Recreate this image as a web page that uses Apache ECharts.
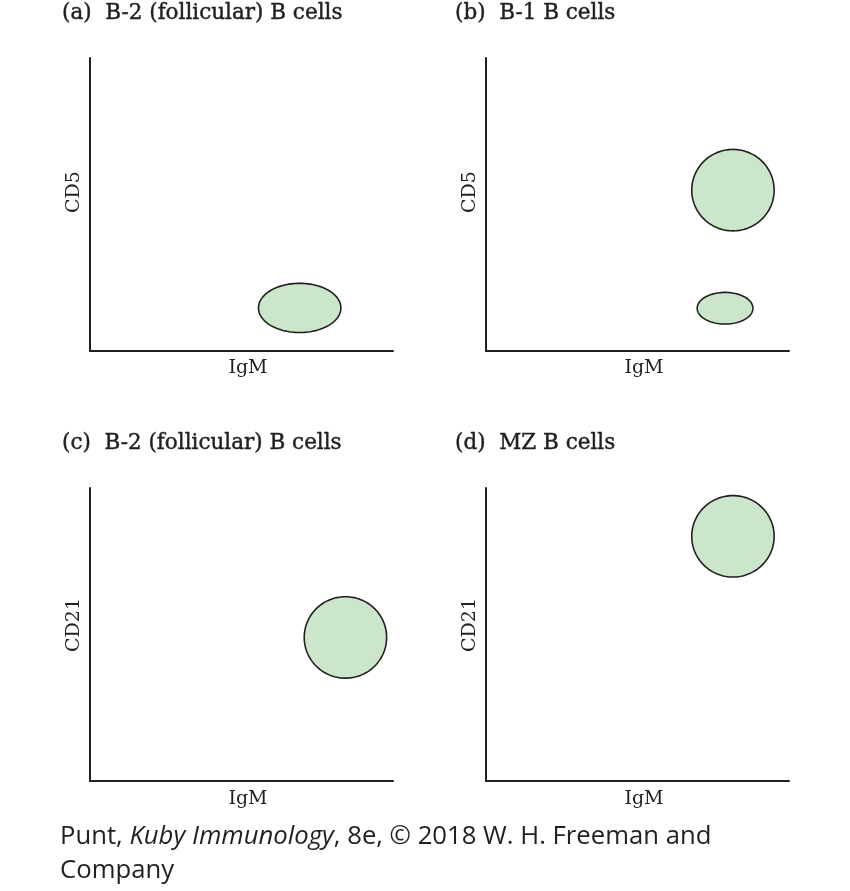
<!DOCTYPE html>
<html>
<head>
<meta charset="utf-8">
<script src="https://cdn.jsdelivr.net/npm/echarts@6/dist/echarts.min.js"></script>
<style>
html,body{margin:0;padding:0;background:#fff;}
#chart{width:850px;height:891px;}
</style>
</head>
<body>
<div id="chart"></div>
<script>
// Panel titles and axis names
const panelTitles = ['(a)  B-2 (follicular) B cells', '(b)  B-1 B cells', '(c)  B-2 (follicular) B cells', '(d)  MZ B cells'];
const xAxisNames = ['IgM', 'IgM', 'IgM', 'IgM'];
const yAxisNames = ['CD5', 'CD5', 'CD21', 'CD21'];
// Populations: [IgM center, marker center, IgM half-width, marker half-height] (axis units 0-100)
const panelA = [[69.2, 14.7, 13.6, 8.4]];
const panelB = [[81.5, 54.9, 13.6, 13.9], [78.9, 14.6, 9.2, 5.4]];
const panelC = [[84.3, 49.0, 13.6, 13.9]];
const panelD = [[81.5, 83.5, 13.6, 13.9]];
const panelData = [panelA, panelB, panelC, panelD];
const footerLine1 = 'Punt, ';
const footerItalic = 'Kuby Immunology';
const footerRest = ', 8e, \u00a9 2018 W. H. Freeman and';
const footerLine2 = 'Company';

const grids = [
  {left: 90, top: 58, width: 303, height: 293},
  {left: 486, top: 58, width: 303, height: 293},
  {left: 90, top: 488, width: 303, height: 293},
  {left: 486, top: 488, width: 303, height: 293}
];
const ink = '#231f20';
const serif = '"DejaVu Serif", "Liberation Serif", serif';

const chart = echarts.init(document.getElementById('chart'), null, {renderer: 'canvas'});

function axisCommon() {
  return {
    type: 'value', min: 0, max: 100,
    axisLine: {show: true, onZero: false, lineStyle: {color: ink, width: 2}},
    axisTick: {show: false}, axisLabel: {show: false}, splitLine: {show: false}
  };
}

const xAxes = grids.map((g, i) => Object.assign(axisCommon(), {gridIndex: i, position: 'bottom'}));
const yAxes = grids.map((g, i) => Object.assign(axisCommon(), {gridIndex: i, position: 'left'}));

function renderEllipse(params, api) {
  const c = api.coord([api.value(0), api.value(1)]);
  const s = api.size([api.value(2), api.value(3)]);
  const rx = s[0], ry = s[1];
  const pts = [];
  for (let k = 0; k < 120; k++) {
    const t = k / 120 * Math.PI * 2;
    pts.push([c[0] + rx * Math.cos(t), c[1] + ry * Math.sin(t)]);
  }
  return {
    type: 'polygon',
    shape: {points: pts},
    style: {fill: '#cce6cb', stroke: ink, lineWidth: 1.6}
  };
}

const series = panelData.map((d, i) => ({
  type: 'custom', xAxisIndex: i, yAxisIndex: i,
  renderItem: renderEllipse, data: d, silent: true
}));

const titlePos = [[62, 13], [455, 13], [62, 443], [455, 443]];
const xNamePos = [[248, 368], [644, 368], [248, 799], [644, 799]];
const yNamePos = [[74, 192], [470, 192], [74, 625], [470, 625]];

const graphics = [];
panelTitles.forEach((t, i) => {
  graphics.push({type: 'text', x: titlePos[i][0], y: titlePos[i][1],
    style: {text: t, font: '21.5px ' + serif, fill: ink, stroke: ink, lineWidth: 0.45, verticalAlign: 'middle'}});
});
xAxisNames.forEach((t, i) => {
  graphics.push({type: 'text', x: xNamePos[i][0], y: xNamePos[i][1],
    style: {text: t, font: '19px ' + serif, fill: ink, align: 'center', verticalAlign: 'middle'}});
});
yAxisNames.forEach((t, i) => {
  graphics.push({type: 'text', x: yNamePos[i][0], y: yNamePos[i][1], rotation: Math.PI / 2,
    style: {text: t, font: '19px ' + serif, fill: ink, align: 'center', verticalAlign: 'middle'}});
});
graphics.push({type: 'text', left: 60, top: 824,
  style: {rich: {n: {fontFamily: '"Open Sans", sans-serif', fontSize: 25.7, fill: ink},
                 it: {fontFamily: '"Open Sans", sans-serif', fontSize: 25.7, fontStyle: 'italic', fill: ink}},
          text: '{n|' + footerLine1 + '}{it|' + footerItalic + '}{n|' + footerRest + '}', fill: ink}});
graphics.push({type: 'text', left: 60, top: 858,
  style: {text: footerLine2, font: '25.7px "Open Sans", sans-serif', fill: ink}});

chart.setOption({
  animation: false,
  backgroundColor: '#ffffff',
  grid: grids,
  xAxis: xAxes,
  yAxis: yAxes,
  series: series,
  graphic: graphics
});
</script>
</body>
</html>
